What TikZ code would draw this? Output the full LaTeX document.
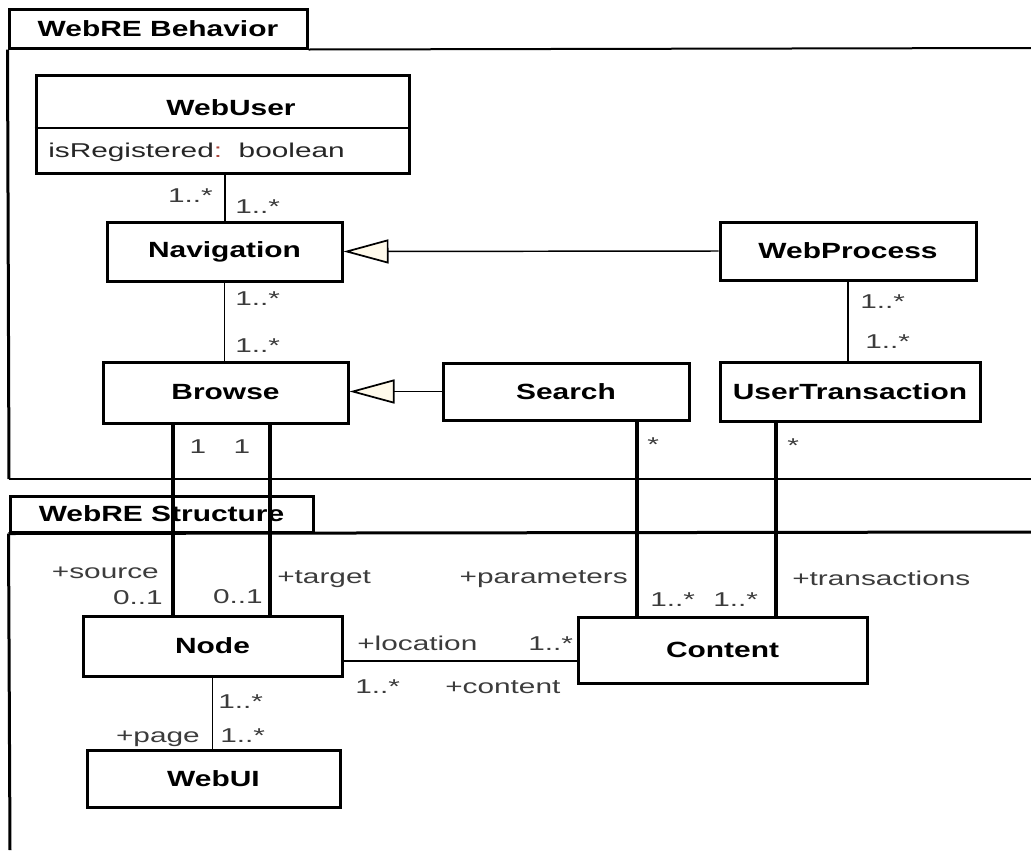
\documentclass[tikz,border=0pt]{standalone}
\usepackage{fontspec}
\setmainfont{Liberation Sans}
\usepackage{graphicx}
\usetikzlibrary{arrows.meta}
\definecolor{genfill}{RGB}{255,250,235}
\definecolor{lbl}{RGB}{60,60,60}
\definecolor{colonred}{RGB}{170,70,60}
\newcommand{\sx}[1]{\scalebox{1.49}[1]{#1}}
\newcommand{\sxb}[1]{\scalebox{1.36}[1]{#1}}
\begin{document}
\begin{tikzpicture}[x=0.75pt,y=-0.75pt,
  cls/.style 2 args={draw, line width=2.25pt, minimum width=#1*0.75pt, minimum height=#2*0.75pt, inner sep=0pt, font=\fontsize{16.5}{19}\selectfont\bfseries},
  tabbox/.style 2 args={draw, line width=2.25pt, minimum width=#1*0.75pt, minimum height=#2*0.75pt, inner sep=0pt, font=\fontsize{16.5}{19}\selectfont\bfseries},
  lab/.style={font=\fontsize{15}{18}\selectfont, text=lbl, inner sep=0pt},
  ttl/.style={font=\fontsize{16.5}{19}\selectfont\bfseries, inner sep=0pt},
  thinline/.style={line width=1.1pt},
  gen/.style={line width=1.1pt, -{Triangle[open, fill=genfill, length=33.75pt, width=18pt, line width=1.3pt]}},
]
\useasboundingbox (0,0) rectangle (1031,850);

% ---------- packages ----------
\node[tabbox={298}{39}] (pkgB) at (158,28.5) {\sxb{WebRE Behavior}};
\coordinate (b1) at (1031,48);
\coordinate (b2) at (9,479);
\coordinate (b3) at (1031,479);
\draw[line width=1.5pt] (pkgB.south east) -- (b1);
\draw[line width=2.25pt] (pkgB.south west) -- (b2);
\draw[line width=1.5pt] (b2) -- (b3);

\node[tabbox={303}{36}] (pkgS) at (161.5,514) {\sxb{WebRE Structure}};
\coordinate (s1) at (1031,532);
\coordinate (s2) at (10,850);
\draw[line width=2.25pt] (pkgS.south west) -- (s1);
\draw[line width=2.25pt] (pkgS.south west) -- (s2);

% ---------- classes ----------
\node[cls={373}{98}] (webuser) at (222.5,124) {};
\coordinate (dv) at (0,128);
\draw[line width=1.3pt] (webuser.west |- dv) -- (webuser.east |- dv);
\node[ttl, anchor=base] (webusername) at (231,115) {\sxb{WebUser}};
\node[lab, anchor=base west, text=black!85] (attr) at (48,157) {\sx{isRegistered\textcolor{colonred}{:}\ \ boolean}};

\node[cls={235}{59}] (navigation) at (224.5,251.5) {\sxb{Navigation}};
\node[cls={256}{58}] (webprocess) at (848,251) {\sxb{WebProcess}};
\node[cls={245}{61}] (browse) at (225.5,392.5) {\sxb{Browse}};
\node[cls={246}{57}] (search) at (566,391.5) {\sxb{Search}};
\node[cls={260}{59}] (usertrans) at (850,391.5) {\sxb{UserTransaction}};
\node[cls={259}{60}] (node) at (212.5,646) {\sxb{Node}};
\node[cls={289}{66}] (content) at (722.5,650) {\sxb{Content}};
\node[cls={253}{57}] (webui) at (213.5,778.5) {\sxb{WebUI}};

% ---------- connectors ----------
\draw[line width=1.5pt] (navigation.north |- webuser.south) -- (navigation.north);
\draw[thinline] (navigation.south) -- (navigation.south |- browse.north);
\draw[line width=1.5pt] (webprocess.south) -- (webprocess.south |- usertrans.north);
\draw[gen] (webprocess.west) -- (navigation.east);
\draw[gen] (search.west) -- (search.west -| browse.east);

\coordinate (xs) at (173,0);
\coordinate (xt) at (270,0);
\coordinate (xp) at (637,0);
\coordinate (xu) at (776,0);
\coordinate (yl) at (0,661);
\draw[line width=3pt] (browse.south -| xs) -- (node.north -| xs);
\draw[line width=2.4pt] (browse.south -| xt) -- (node.north -| xt);
\draw[line width=3pt] (search.south -| xp) -- (content.north -| xp);
\draw[line width=3pt] (usertrans.south -| xu) -- (content.north -| xu);
\draw[thinline] (node.east |- yl) -- (content.west |- yl);
\draw[thinline] (node.south) -- (node.south |- webui.north);

% ---------- labels ----------
\node[lab, anchor=base east] (m1) at (213,202) {\sx{1..*}};
\node[lab, anchor=base west] (m2) at (235,213) {\sx{1..*}};
\node[lab, anchor=base west] (m3) at (235,305) {\sx{1..*}};
\node[lab, anchor=base west] (m4) at (235,352) {\sx{1..*}};
\node[lab, anchor=base west] (m5) at (860,308) {\sx{1..*}};
\node[lab, anchor=base west] (m6) at (865,348) {\sx{1..*}};
\node[lab, anchor=base] (m7) at (198,453) {\sx{1}};
\node[lab, anchor=base] (m8) at (242,453) {\sx{1}};
\node[lab, anchor=base west] (m9) at (647,451) {\sx{*}};
\node[lab, anchor=base west] (m10) at (787,452) {\sx{*}};

\node[lab, anchor=base east] (r1) at (159,578) {\sx{+source}};
\node[lab, anchor=base east] (m11) at (163,604) {\sx{0..1}};
\node[lab, anchor=base east] (m12) at (263,603) {\sx{0..1}};
\node[lab, anchor=base west] (r2) at (277,583) {\sx{+target}};
\node[lab, anchor=base east] (r3) at (628,583) {\sx{+parameters}};
\node[lab, anchor=base west] (r4) at (792,585) {\sx{+transactions}};
\node[lab, anchor=base west] (m13) at (650,606) {\sx{1..*}};
\node[lab, anchor=base west] (m14) at (713,606) {\sx{1..*}};
\node[lab, anchor=base west] (r5) at (357,650) {\sx{+location}};
\node[lab, anchor=base west] (m15) at (528,650) {\sx{1..*}};
\node[lab, anchor=base west] (m16) at (355,693) {\sx{1..*}};
\node[lab, anchor=base west] (r6) at (445,693) {\sx{+content}};
\node[lab, anchor=base west] (m17) at (218,708) {\sx{1..*}};
\node[lab, anchor=base west] (m18) at (220,742) {\sx{1..*}};
\node[lab, anchor=base east] (r7) at (200,742) {\sx{+page}};
\end{tikzpicture}
\end{document}
